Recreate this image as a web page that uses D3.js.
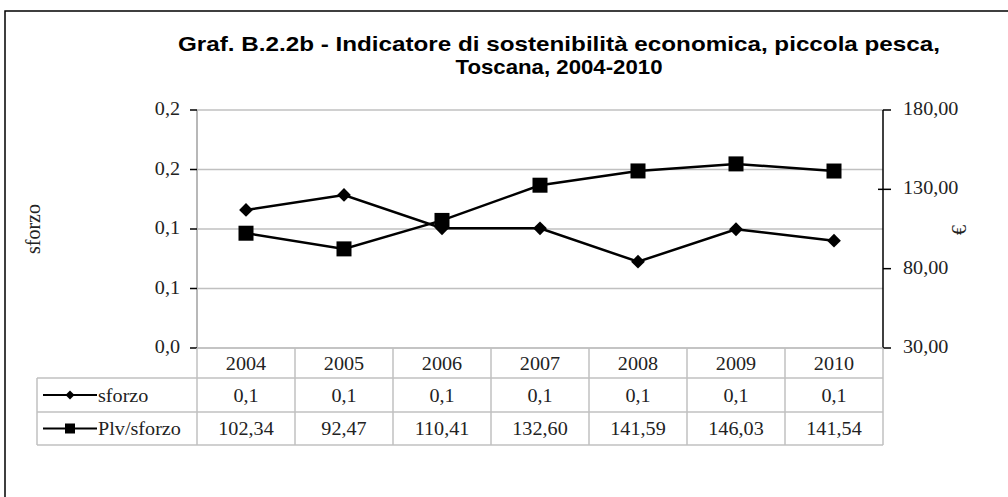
<!DOCTYPE html>
<html><head><meta charset="utf-8">
<script src="https://cdn.jsdelivr.net/npm/d3@7"></script>
<style>body{margin:0;background:#fff}svg{display:block}</style>
</head><body>
<svg id="c" width="1008" height="497"></svg>
<script>
const years = ["2004","2005","2006","2007","2008","2009","2010"];
const sforzo = [0.116, 0.1286, 0.1006, 0.1006, 0.0725, 0.0998, 0.0902];
const plvSforzo = [102.34, 92.47, 110.41, 132.60, 141.59, 146.03, 141.54];
const sforzoTable = ["0,1","0,1","0,1","0,1","0,1","0,1","0,1"];
const leftTicks = [0, 0.05, 0.1, 0.15, 0.2];
const leftTickLabels = ["0,0","0,1","0,1","0,2","0,2"];
const rightTicks = [30, 80, 130, 180];
const rightTickLabels = ["30,00","80,00","130,00","180,00"];
const titleLines = ["Graf. B.2.2b - Indicatore di sostenibilità economica, piccola pesca,", "Toscana, 2004-2010"];

const svg = d3.select("#c");
const L = 197, R = 883, T = 110, B = 348;
const serif = "'Liberation Serif','Times New Roman',serif";
const sx = 1.12;

// outer frame
svg.append("rect").attr("x",5).attr("y",11).attr("width",1010).attr("height",500)
  .attr("fill","none").attr("stroke","#000").attr("stroke-width",1.5);

// title
svg.append("text").attr("x",559).attr("y",51).attr("text-anchor","middle")
  .attr("font-family","'Liberation Sans',Arial,sans-serif").attr("font-weight","bold")
  .attr("font-size",21).attr("textLength",762).attr("lengthAdjust","spacingAndGlyphs")
  .text(titleLines[0]);
svg.append("text").attr("x",559).attr("y",74).attr("text-anchor","middle")
  .attr("font-family","'Liberation Sans',Arial,sans-serif").attr("font-weight","bold")
  .attr("font-size",21).attr("textLength",207).attr("lengthAdjust","spacingAndGlyphs")
  .text(titleLines[1]);

const x = d3.scaleBand().domain(years).range([L,R]).padding(0);
const yL = d3.scaleLinear().domain([0,0.2]).range([B,T]);
const yR = d3.scaleLinear().domain([30,180]).range([B,T]);

// gridlines
svg.append("g").selectAll("line").data(leftTicks).join("line")
  .attr("x1",L).attr("x2",R).attr("y1",d=>yL(d)).attr("y2",d=>yL(d))
  .attr("stroke","#c0c0c0").attr("stroke-width",1.5);
// left plot edge grey
svg.append("line").attr("x1",L).attr("x2",L).attr("y1",T).attr("y2",B)
  .attr("stroke","#b8b8b8").attr("stroke-width",2);

// left axis ticks and labels
const lt = svg.append("g");
lt.selectAll("line").data(leftTicks).join("line")
  .attr("x1",L-7).attr("x2",L).attr("y1",d=>yL(d)).attr("y2",d=>yL(d))
  .attr("stroke","#000").attr("stroke-width",1.5);
lt.selectAll("text").data(leftTicks).join("text")
  .attr("transform",d=>`translate(180,${yL(d)+5}) scale(${sx},1)`)
  .attr("text-anchor","end").attr("font-family",serif).attr("font-size",18).attr("fill","#222")
  .text((d,i)=>leftTickLabels[i]);

// right axis
svg.append("line").attr("x1",R).attr("x2",R).attr("y1",T).attr("y2",B)
  .attr("stroke","#000").attr("stroke-width",1.5);
const rt = svg.append("g");
rt.selectAll("line").data(rightTicks).join("line")
  .attr("x1",d=>d===130?R-5:R).attr("x2",R+8).attr("y1",d=>yR(d)).attr("y2",d=>yR(d))
  .attr("stroke","#000").attr("stroke-width",1.5);
rt.selectAll("text").data(rightTicks).join("text")
  .attr("transform",d=>`translate(903,${yR(d)+5}) scale(${sx},1)`)
  .attr("font-family",serif).attr("font-size",18).attr("fill","#222")
  .text((d,i)=>rightTickLabels[i]);

// axis titles
svg.append("text").attr("transform","translate(40,229) rotate(-90)").attr("text-anchor","middle")
  .attr("font-family",serif).attr("font-size",20).attr("fill","#222").text("sforzo");
svg.append("text").attr("transform","translate(966,230) rotate(-90)").attr("text-anchor","middle")
  .attr("font-family",serif).attr("font-size",20).attr("fill","#222").text("€");

// lines
const cx = d => x(d) + x.bandwidth()/2;
const lineL = d3.line().x((d,i)=>cx(years[i])).y(d=>yL(d));
const lineR = d3.line().x((d,i)=>cx(years[i])).y(d=>yR(d));
svg.append("path").attr("d",lineL(sforzo)).attr("fill","none").attr("stroke","#000").attr("stroke-width",2.5);
svg.append("path").attr("d",lineR(plvSforzo)).attr("fill","none").attr("stroke","#000").attr("stroke-width",2.5);
const diamond = d3.symbol().type(d3.symbolDiamond2 || d3.symbolDiamond);
svg.append("g").selectAll("path").data(sforzo).join("path")
  .attr("transform",(d,i)=>`translate(${cx(years[i])},${yL(d)}) rotate(45)`)
  .attr("d",d3.symbol().type(d3.symbolSquare).size(95)()).attr("fill","#000");
svg.append("g").selectAll("rect").data(plvSforzo).join("rect")
  .attr("x",(d,i)=>cx(years[i])-7.5).attr("y",d=>yR(d)-7.5).attr("width",15).attr("height",15).attr("fill","#000");

// data table
const rowY = [348, 378, 412, 445];
const tg = svg.append("g").attr("stroke","#c0c0c0").attr("stroke-width",1.5);
tg.append("line").attr("x1",L).attr("x2",R).attr("y1",rowY[0]).attr("y2",rowY[0]);
[1,2,3].forEach(r=>tg.append("line").attr("x1",37).attr("x2",R).attr("y1",rowY[r]).attr("y2",rowY[r]));
tg.append("line").attr("x1",37).attr("x2",37).attr("y1",rowY[1]).attr("y2",rowY[3]);
years.forEach(yr=>tg.append("line").attr("x1",x(yr)).attr("x2",x(yr)).attr("y1",rowY[0]).attr("y2",rowY[3]));
tg.append("line").attr("x1",R).attr("x2",R).attr("y1",rowY[0]).attr("y2",rowY[3]);

const tt = svg.append("g").attr("font-family",serif).attr("font-size",18).attr("fill","#222");
const rowsText = [years, sforzoTable, plvSforzo.map(v=>v.toFixed(2).replace(".",","))];
const base = [370, 402, 435];
rowsText.forEach((row,r)=>{
  tt.selectAll(null).data(row).join("text")
    .attr("transform",(d,i)=>`translate(${cx(years[i])},${base[r]}) scale(${sx},1)`)
    .attr("text-anchor","middle").text(d=>d);
});
// legend keys
const keys = [{label:"sforzo",row:1,type:"d"},{label:"Plv/sforzo",row:2,type:"s"}];
keys.forEach(k=>{
  const yc = (rowY[k.row]+rowY[k.row+1])/2;
  svg.append("line").attr("x1",43).attr("x2",97).attr("y1",yc).attr("y2",yc).attr("stroke","#000").attr("stroke-width",2);
  if(k.type==="d") svg.append("path").attr("transform",`translate(70,${yc}) rotate(45)`)
    .attr("d",d3.symbol().type(d3.symbolSquare).size(40)()).attr("fill","#000");
  else svg.append("rect").attr("x",65).attr("y",yc-5).attr("width",10).attr("height",10).attr("fill","#000");
  tt.append("text").attr("transform",`translate(98,${base[k.row]}) scale(${sx},1)`).text(k.label);
});
</script>
</body></html>
